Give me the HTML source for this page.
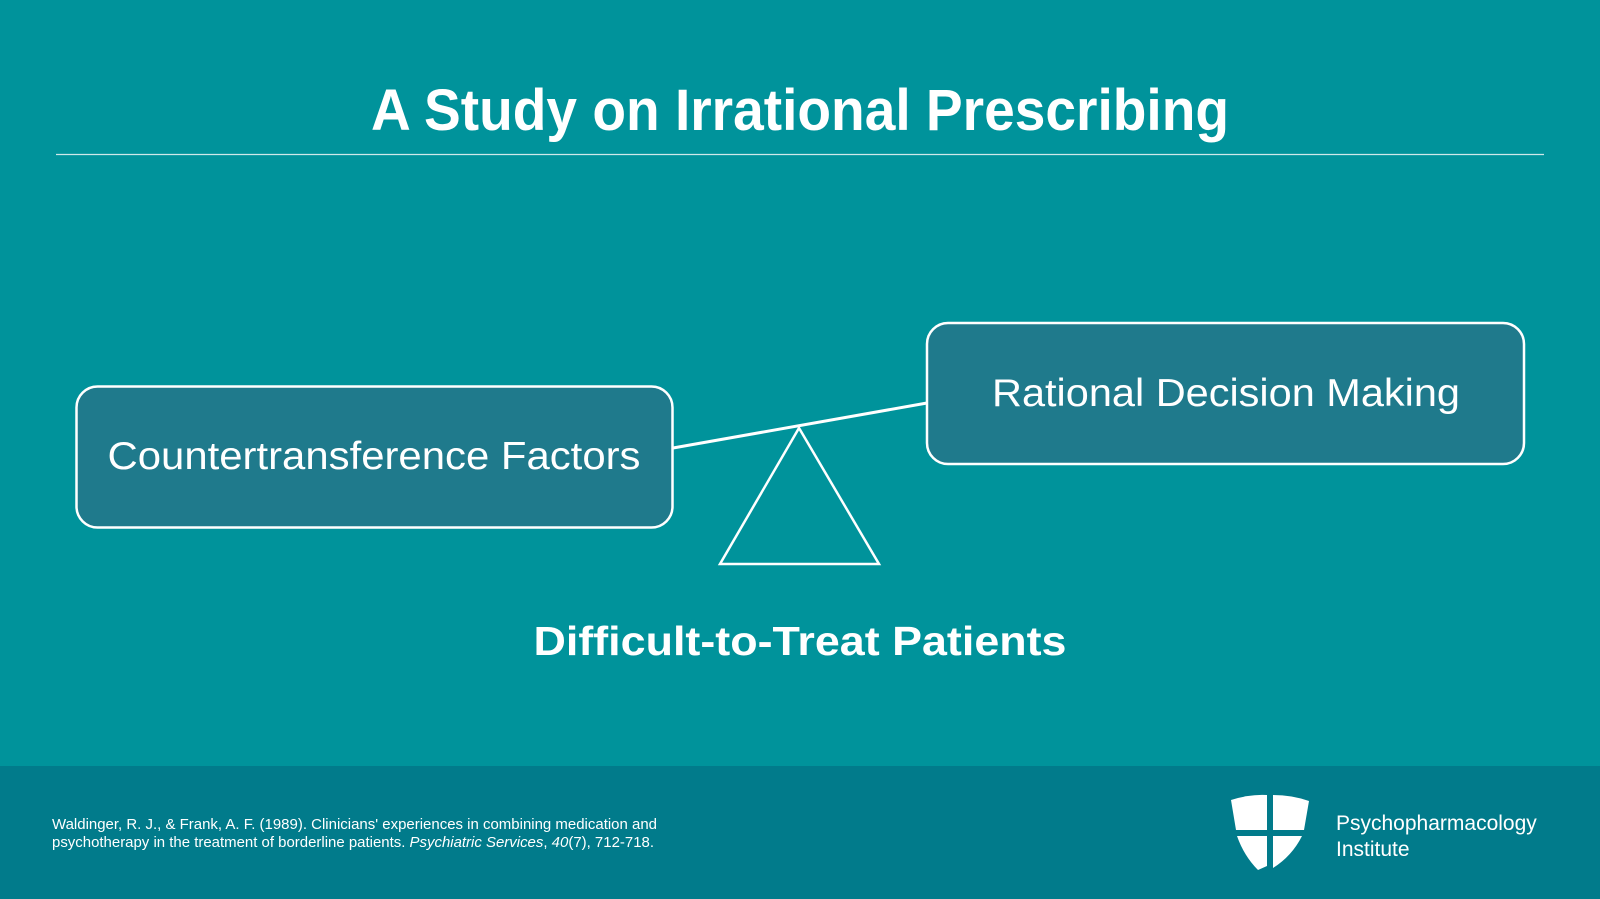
<!DOCTYPE html>
<html><head><meta charset="utf-8"><style>
html,body{margin:0;padding:0;}
body{width:1600px;height:899px;overflow:hidden;background:#00939b;font-family:"Liberation Sans",sans-serif;}
svg{display:block}
</style></head><body>
<svg width="1600" height="899" viewBox="0 0 1600 899" xmlns="http://www.w3.org/2000/svg">
<rect width="1600" height="899" fill="#00939b"/>
<rect y="766" width="1600" height="133" fill="#017b8b"/>
<text x="800" y="130" text-anchor="middle" fill="#fff" font-family="Liberation Sans" font-weight="bold" font-size="58" textLength="858" lengthAdjust="spacingAndGlyphs">A Study on Irrational Prescribing</text>
<line x1="56" y1="154.5" x2="1544" y2="154.5" stroke="#cfe8ea" stroke-width="1.2"/>
<line x1="673" y1="448" x2="927" y2="403" stroke="#fff" stroke-width="3"/>
<polygon points="799,428 720,564 879,564" fill="none" stroke="#fff" stroke-width="2.5"/>
<rect x="76.5" y="386.5" width="596" height="141" rx="21" fill="#1f7a8c" stroke="#fff" stroke-width="2.5"/>
<rect x="927" y="323" width="597" height="141" rx="21" fill="#1f7a8c" stroke="#fff" stroke-width="2.5"/>
<text x="374" y="469" text-anchor="middle" fill="#fff" font-size="39" textLength="533" lengthAdjust="spacingAndGlyphs">Countertransference Factors</text>
<text x="1226" y="406" text-anchor="middle" fill="#fff" font-size="39" textLength="468" lengthAdjust="spacingAndGlyphs">Rational Decision Making</text>
<text x="800" y="655" text-anchor="middle" fill="#fff" font-weight="bold" font-size="41" textLength="533" lengthAdjust="spacingAndGlyphs">Difficult-to-Treat Patients</text>
<text x="52" y="829" fill="#fff" font-size="14.5" textLength="605" lengthAdjust="spacingAndGlyphs">Waldinger, R. J., &amp; Frank, A. F. (1989). Clinicians' experiences in combining medication and</text>
<text x="52" y="847" fill="#fff" font-size="14.5" textLength="602" lengthAdjust="spacingAndGlyphs">psychotherapy in the treatment of borderline patients. <tspan font-style="italic">Psychiatric Services</tspan>, <tspan font-style="italic">40</tspan>(7), 712-718.</text>
<g fill="#fff">
<path d="M1231,800 Q1250,794 1267,795 L1267,830 L1236,830 Z"/>
<path d="M1273,795 Q1292,795 1309,801 L1304,830 L1273,830 Z"/>
<path d="M1237,836 L1267,836 L1267,866 L1258,870 Q1244,856 1237,836 Z"/>
<path d="M1273,836 L1302,836 Q1292,856 1273,868 Z"/>
</g>
<text x="1336" y="830" fill="#fff" font-size="21">Psychopharmacology</text>
<text x="1336" y="856" fill="#fff" font-size="21">Institute</text>
</svg>
</body></html>
